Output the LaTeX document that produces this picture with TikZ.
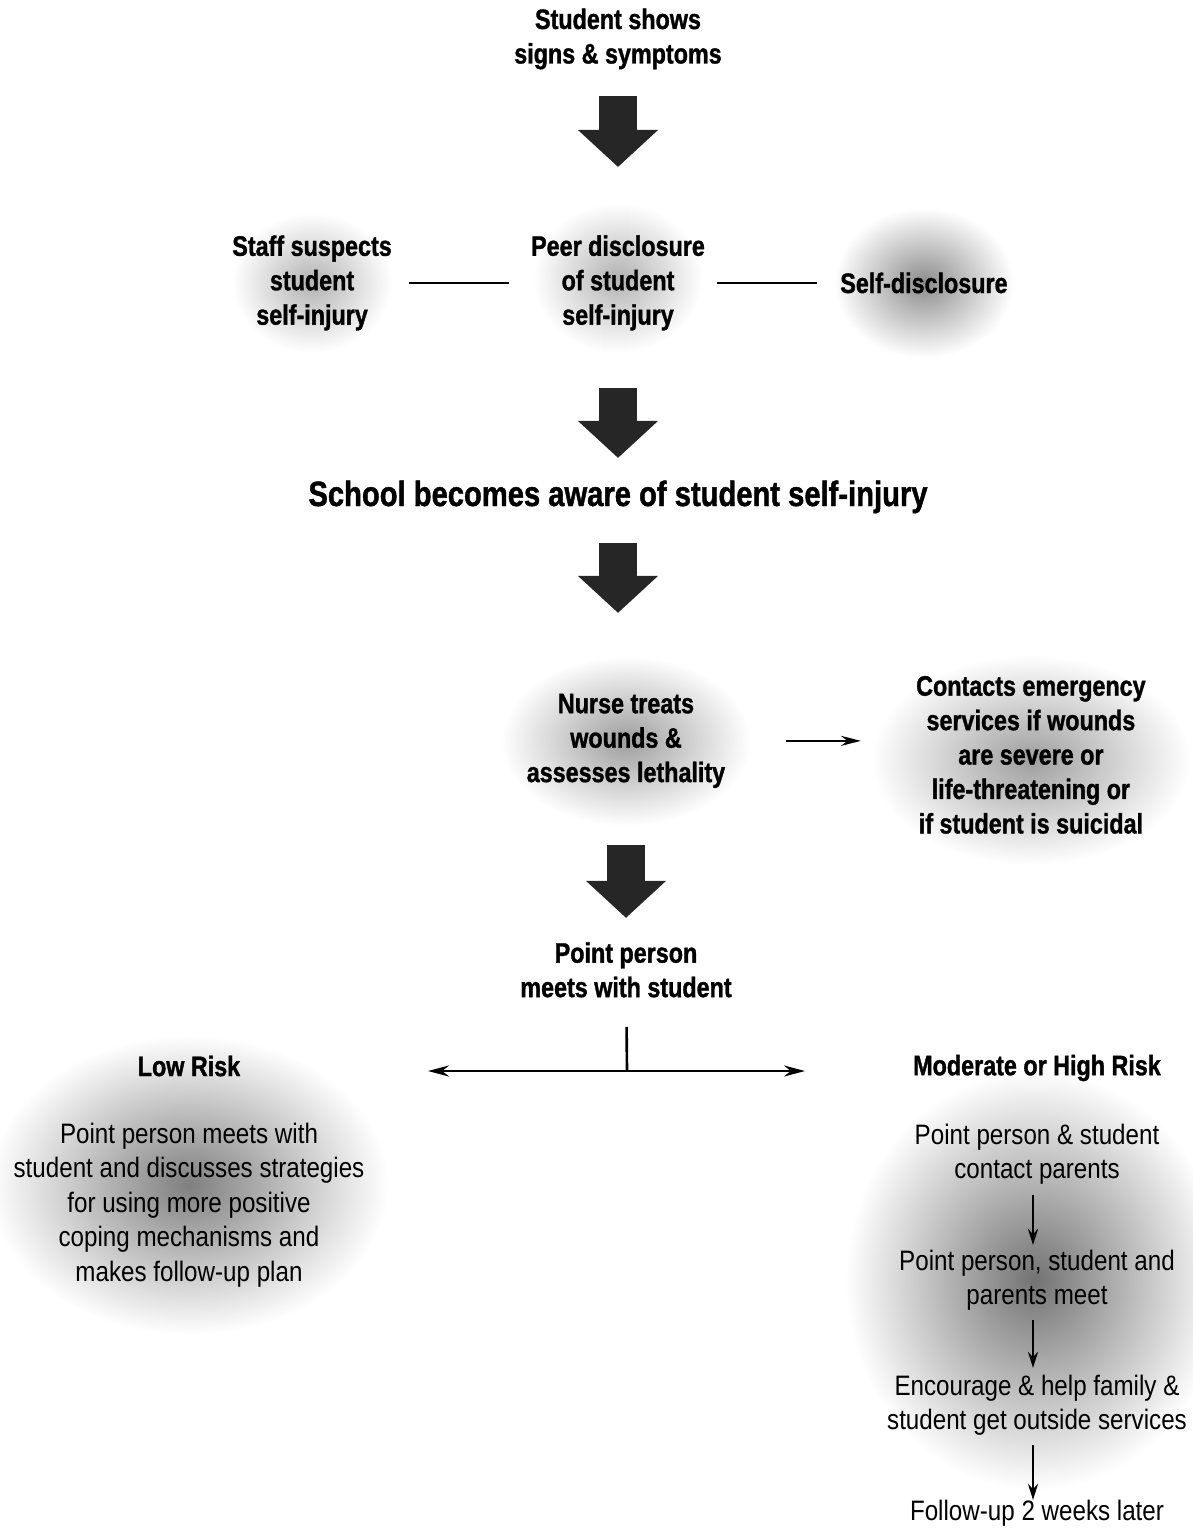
\documentclass[tikz,border=0pt]{standalone}
\usepackage{fontspec}
\setmainfont{Liberation Sans}[FakeStretch=0.86,BoldFeatures={FakeStretch=0.83,FakeBold=1.2}]
\usetikzlibrary{arrows.meta}
\usetikzlibrary{backgrounds}
\usetikzlibrary{shapes,positioning}
\tikzset{>=Stealth,
  lbl/.style={font=\bfseries\fontsize{16}{19.6}\selectfont, align=center, inner sep=2pt},
  txt/.style={font=\fontsize{16}{19.6}\selectfont, align=center, inner sep=2pt},
  bigarrow/.style 2 args={draw=black!85, line width=0.76cm,
    -{Triangle[width=1.56cm,length=0.74cm]}, shorten <=#1, shorten >=#2},
  thinarrow/.style={line width=1pt, -{Stealth[length=0.4cm,width=0.2cm]}},
  smallarrow/.style={line width=1.5pt, -{Stealth[length=0.32cm,width=0.2cm]}},
  fork/.style={line width=1.3pt,
    {Stealth[length=0.42cm,width=0.22cm]}-{Stealth[length=0.42cm,width=0.22cm]}},
  glow/.style={shading=radial, inner color=black!#1, outer color=white}}

\begin{document}
\begin{tikzpicture}[x=0.02cm, y=-0.02cm]
    \useasboundingbox (0,0) rectangle (1193,1528);

    \node[lbl] (signs) at (618,39) {Student shows\\signs \& symptoms};
    \node[lbl, below of=signs, node distance=4.88cm] (peer) {Peer disclosure\\of student\\self-injury};
    \node[lbl, left of=peer, node distance=6.12cm] (staff) {Staff suspects\\student\\self-injury};
    \node[lbl, right of=peer, node distance=6.12cm] (self) {Self-disclosure};
    \node[lbl, below of=peer, node distance=4.28cm, font=\bfseries\fontsize{20}{24}\selectfont] (aware) {School becomes aware of student self-injury};
    \node[lbl, below of=aware, node distance=4.88cm, xshift=0.16cm] (nurse) {Nurse treats\\wounds \&\\assesses lethality};
    \node[lbl, right of=nurse, node distance=8.1cm, yshift=-0.28cm] (contacts) {Contacts emergency\\services if wounds\\are severe or\\life-threatening or\\if student is suicidal};
    \node[lbl, below of=nurse, node distance=4.58cm] (meets) {Point person\\meets with student};

    \node[lbl] (low) at (189,1066) {Low Risk};
    \node[txt, below of=low, node distance=2.78cm] (lowplan) {Point person meets with\\student and discusses strategies\\for using more positive\\coping mechanisms and\\makes follow-up plan};
    \node[lbl] (high) at (1037,1068) {Moderate or High Risk};
    \node[txt, below of=high, node distance=1.72cm] (p1) {Point person \& student\\contact parents};
    \node[txt, below of=p1, node distance=2.52cm] (p2) {Point person, student and\\parents meet};
    \node[txt, below of=p2, node distance=2.5cm] (p3) {Encourage \& help family \&\\student get outside services};
    \node[txt, below of=p3, node distance=2.16cm] (p4) {Follow-up 2 weeks later};
    \coordinate (fork) at (627,1071);
    \coordinate (lowend) at (428,1071);
    \coordinate (highend) at (805,1071);

    % soft shadows behind the texts
    \begin{scope}[on background layer]
      \shade[glow=30] (staff.center) ellipse [x radius=1.6cm, y radius=1.4cm];
      \shade[glow=30] ([yshift=0.1cm]peer.center) ellipse [x radius=1.7cm, y radius=1.5cm];
      \shade[glow=45] (self.center) ellipse [x radius=1.8cm, y radius=1.5cm];
      \shade[glow=38] (nurse.center) ellipse [x radius=2.5cm, y radius=1.7cm];
      \shade[glow=38] ([yshift=-0.1cm]contacts.center) ellipse [x radius=3.2cm, y radius=2.1cm];
      \shade[glow=50] ([yshift=0.4cm]lowplan.center) ellipse [x radius=4cm, y radius=3cm];
      \shade[glow=55] ([xshift=-0.04cm]p2.center) ellipse [x radius=3.8cm, y radius=4.2cm];
    \end{scope}

    \draw[bigarrow={1.14cm}{2.32cm}] (signs.center) -- (signs.center |- peer.center);
    \draw[bigarrow={2.1cm}{0.78cm}] (peer.center) -- (peer.center |- aware.center);
    \draw[bigarrow={0.92cm}{2.56cm}] (aware.center) -- (aware.center |- nurse.center);
    \draw[bigarrow={2.08cm}{1.04cm}] (nurse.center) -- (meets.center);

    \draw[line width=1.6pt] (staff.center) ++(1.94cm,0) -- ++(2cm,0);
    \draw[line width=1.6pt] (peer.center) ++(1.98cm,0) -- ++(2cm,0);
    \draw[thinarrow, shorten <=3.2cm, shorten >=3.4cm] (nurse.center) -- (nurse.center -| contacts.center);

    \draw[line width=1.5pt, shorten <=1.14cm] (meets.center) -- (fork);
    \draw[fork] (lowend) -- (highend);

    \draw[smallarrow, shorten <=0.82cm, shorten >=0.7cm] ([xshift=-0.08cm]p1.center) -- ([xshift=-0.08cm]p2.center);
    \draw[smallarrow, shorten <=0.8cm, shorten >=0.74cm] ([xshift=-0.08cm]p2.center) -- ([xshift=-0.08cm]p3.center);
    \draw[smallarrow, shorten <=0.8cm, shorten >=0.26cm] ([xshift=-0.08cm]p3.center) -- ([xshift=-0.08cm]p4.center);
\end{tikzpicture}
\end{document}
